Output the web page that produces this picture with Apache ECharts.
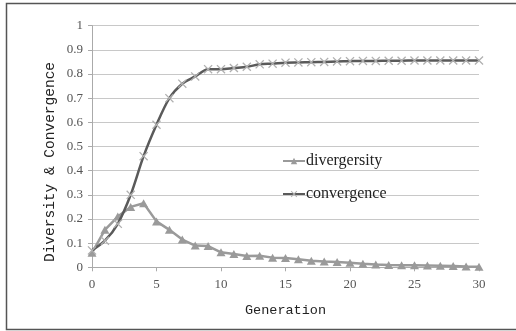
<!DOCTYPE html>
<html><head><meta charset="utf-8">
<script src="https://cdn.jsdelivr.net/npm/echarts@6/dist/echarts.min.js"></script>
<style>html,body{margin:0;padding:0;background:#fff}#c{width:516px;height:331px}</style>
</head><body><div id="c"></div>
<script>
const generations = [0,1,2,3,4,5,6,7,8,9,10,11,12,13,14,15,16,17,18,19,20,21,22,23,24,25,26,27,28,29,30];
const divergersity = [0.06,0.155,0.21,0.25,0.265,0.19,0.155,0.115,0.09,0.088,0.062,0.055,0.047,0.048,0.04,0.038,0.033,0.027,0.024,0.022,0.019,0.015,0.012,0.01,0.009,0.008,0.007,0.006,0.005,0.003,0.002];
const convergence = [0.07,0.11,0.18,0.30,0.46,0.59,0.70,0.76,0.79,0.82,0.82,0.825,0.83,0.84,0.843,0.847,0.848,0.849,0.85,0.852,0.853,0.854,0.854,0.855,0.855,0.856,0.856,0.856,0.856,0.856,0.856];
const yTitle = 'Diversity & Convergence';
const xTitle = 'Generation';

const serif = '"Liberation Serif", "Times New Roman", serif';
const mono = '"Liberation Mono", "Courier New", monospace';
const crossPath = 'path://M0,1L1,0L5,4L9,0L10,1L6,5L10,9L9,10L5,6L1,10L0,9L4,5Z';
const chart = echarts.init(document.getElementById('c'), null, {renderer:'canvas'});
chart.setOption({
  animation:false,
  backgroundColor:'#fff',
  graphic:[
    {type:'rect',shape:{x:6.5,y:3.5,width:520,height:326},style:{fill:'none',stroke:'#555',lineWidth:1.5},z:-1},
    {type:'text',x:50,y:162,rotation:Math.PI/2,
     style:{text:yTitle,font:'14.5px '+mono,fill:'#222',textAlign:'center',textVerticalAlign:'middle'}}
  ],
  grid:{left:92,right:37,top:25.7,bottom:63.7},
  legend:{
    orient:'vertical',left:277,top:148,itemGap:17,itemWidth:22,itemHeight:8,
    textStyle:{fontFamily:serif,fontSize:16,color:'#222',padding:[0,0,0,-4]},
    data:['divergersity','convergence']
  },
  xAxis:{
    type:'value',min:0,max:30,interval:5,
    name:xTitle,nameLocation:'middle',nameGap:36,
    nameTextStyle:{fontFamily:mono,fontSize:13.5,color:'#222'},
    axisLine:{lineStyle:{color:'#aaa'}},
    axisTick:{show:true,length:4,lineStyle:{color:'#aaa'}},
    axisLabel:{fontFamily:serif,fontSize:13,color:'#555',margin:11},
    splitLine:{show:false}
  },
  yAxis:{
    type:'value',min:0,max:1,interval:0.1,
    axisLine:{show:true,lineStyle:{color:'#aaa'}},
    axisTick:{show:true,length:4,lineStyle:{color:'#aaa'}},
    axisLabel:{fontFamily:serif,fontSize:13,color:'#555',margin:9,
      formatter:function(v){return String(Math.round(v*10)/10);}},
    splitLine:{lineStyle:{color:'#c8c8c8'}}
  },
  series:[
    {name:'divergersity',type:'line',data:generations.map((g,i)=>[g,divergersity[i]]),
     symbol:'triangle',symbolSize:[9,8],showAllSymbol:true,
     lineStyle:{color:'#9a9a9a',width:2.5},itemStyle:{color:'#9a9a9a'},z:2},
    {name:'convergence',type:'line',smooth:0.3,data:generations.map((g,i)=>[g,convergence[i]]),
     symbol:crossPath,symbolSize:9,showAllSymbol:true,
     lineStyle:{color:'#5a5a5a',width:2.5},itemStyle:{color:'#b0b0b0'},z:3}
  ]
});
</script></body></html>
